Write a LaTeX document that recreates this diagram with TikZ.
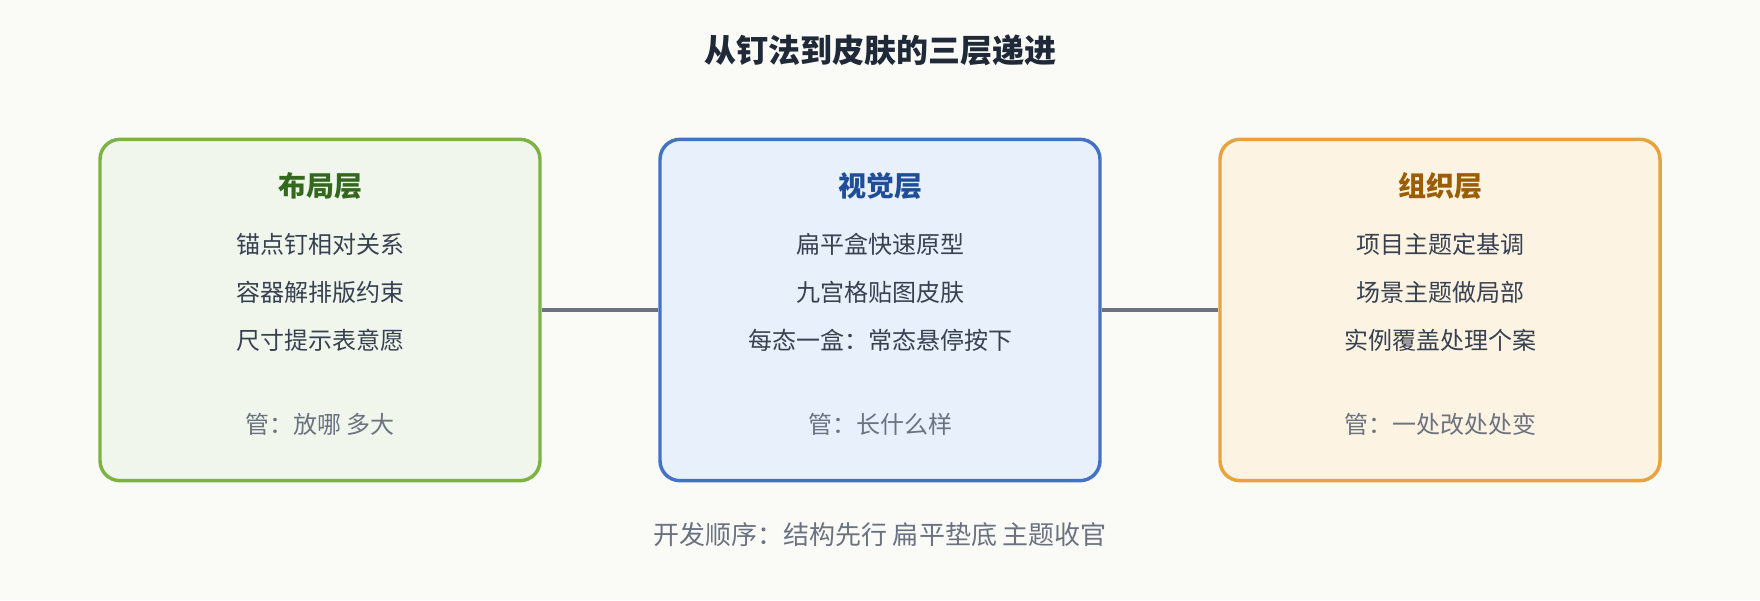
\documentclass[tikz,border=0pt]{standalone}
\usepackage{fontspec}
\setmainfont{Noto Sans CJK SC}
\usetikzlibrary{positioning}
\definecolor{paper}{HTML}{FAFAF7}
\definecolor{ink}{HTML}{1F2937}
\definecolor{bodyink}{HTML}{374151}
\definecolor{mutedink}{HTML}{6B7280}
\definecolor{greenline}{HTML}{7CB342}
\definecolor{greenfill}{HTML}{F0F6EC}
\definecolor{greenhead}{HTML}{33691E}
\definecolor{blueline}{HTML}{4472C4}
\definecolor{bluefill}{HTML}{E8F0FB}
\definecolor{bluehead}{HTML}{1F4E99}
\definecolor{orangeline}{HTML}{E8A33D}
\definecolor{orangefill}{HTML}{FDF3E2}
\definecolor{orangehead}{HTML}{9C5C00}
\tikzset{
  layerbox/.style={draw, line width=2.6pt, rounded corners=15pt, minimum width=330pt, minimum height=256pt, inner sep=0pt},
  head/.style={inner sep=0pt, font=\fontsize{21pt}{24pt}\selectfont\bfseries},
  item/.style={inner sep=0pt, text=bodyink, font=\fontsize{18pt}{21pt}\selectfont},
  note/.style={inner sep=0pt, text=mutedink, font=\fontsize{18pt}{21pt}\selectfont},
  link/.style={draw=mutedink, line width=3pt}
}

\begin{document}
\begin{tikzpicture}[x=0.75pt,y=-0.75pt]
	\fill[paper] (0, 0) rectangle (1760, 600);
	\useasboundingbox (0, 0) rectangle (1760, 600);

	\node[inner sep=0pt, text=ink, font=\fontsize{24pt}{28pt}\selectfont\bfseries] (title) at (880, 50) {从钉法到皮肤的三层递进};

	\node[layerbox, draw=greenline, fill=greenfill] (layout) at (320, 310) {};
	\node[layerbox, draw=blueline, fill=bluefill] (visual) at (880, 310) {};
	\node[layerbox, draw=orangeline, fill=orangefill] (organize) at (1440, 310) {};

	\draw[link] (layout.east)--(visual.west);
	\draw[link] (visual.east)--(organize.west);

	% layout layer
	\node[head, text=greenhead] (layouthead) at (320, 186) {布局层};
	\node[item] (layoutone) at (320, 244) {锚点钉相对关系};
	\node[item] (layouttwo) at (320, 292) {容器解排版约束};
	\node[item] (layoutthree) at (320, 340) {尺寸提示表意愿};
	\node[note] (layoutnote) at (320, 424) {管：放哪 多大};

	% visual layer
	\node[head, text=bluehead] (visualhead) at (880, 186) {视觉层};
	\node[item] (visualone) at (880, 244) {扁平盒快速原型};
	\node[item] (visualtwo) at (880, 292) {九宫格贴图皮肤};
	\node[item] (visualthree) at (880, 340) {每态一盒：常态悬停按下};
	\node[note] (visualnote) at (880, 424) {管：长什么样};

	% organize layer
	\node[head, text=orangehead] (organizehead) at (1440, 186) {组织层};
	\node[item] (organizeone) at (1440, 244) {项目主题定基调};
	\node[item] (organizetwo) at (1440, 292) {场景主题做局部};
	\node[item] (organizethree) at (1440, 340) {实例覆盖处理个案};
	\node[note] (organizenote) at (1440, 424) {管：一处改处处变};

	\node[note, font=\fontsize{19.5pt}{23pt}\selectfont] (order) at (880, 535) {开发顺序：结构先行 扁平垫底 主题收官};
\end{tikzpicture}
\end{document}
